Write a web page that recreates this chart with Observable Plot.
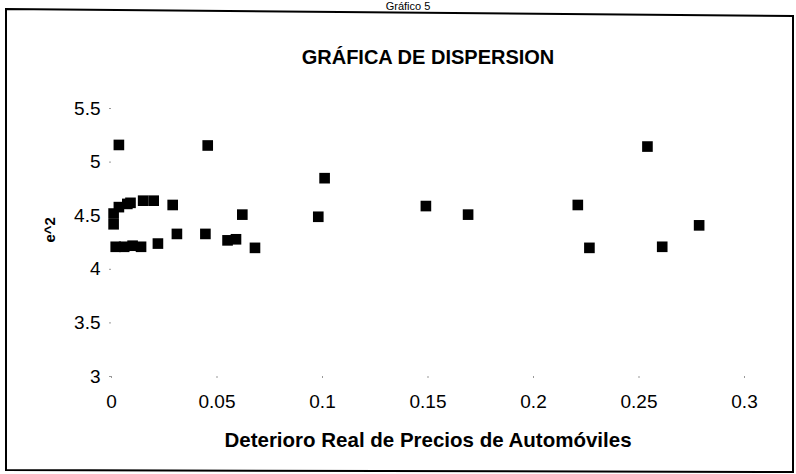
<!DOCTYPE html>
<html>
<head>
<meta charset="utf-8">
<script src="https://cdn.jsdelivr.net/npm/d3@7"></script>
<script src="https://cdn.jsdelivr.net/npm/@observablehq/plot@0.6"></script>
<style>
  html, body { margin: 0; padding: 0; background: #fff; }
  #chart svg { display: block; font-family: "Liberation Sans", Arial, sans-serif; }
</style>
</head>
<body>
<div id="chart"></div>
<script>
const chartTitle = "GRÁFICA DE DISPERSION";
const pageTitle = "Gráfico 5";
const xTitle = "Deterioro Real de Precios de Automóviles";
const yTitle = "e^2";
const xTicks = [0, 0.05, 0.1, 0.15, 0.2, 0.25, 0.3];
const yTicks = [3, 3.5, 4, 4.5, 5, 5.5];

const deterioro = [0.0035, 0.0456, 0.001, 0.001, 0.0035, 0.0075, 0.009, 0.015, 0.020, 0.029,
                   0.062, 0.031, 0.0445, 0.055, 0.059, 0.002, 0.006, 0.010, 0.014, 0.022,
                   0.068, 0.101, 0.098, 0.149, 0.169, 0.254, 0.221, 0.2265, 0.261, 0.2785];
const e2 = [5.16, 5.155, 4.52, 4.42, 4.58, 4.61, 4.62, 4.64, 4.64, 4.60,
            4.51, 4.33, 4.33, 4.27, 4.28, 4.21, 4.21, 4.22, 4.21, 4.24,
            4.20, 4.85, 4.49, 4.59, 4.51, 5.145, 4.60, 4.20, 4.21, 4.41];

const data = deterioro.map((x, i) => ({x, y: e2[i]}));

const plot = Plot.plot({
  width: 796,
  height: 474,
  marginLeft: 111,
  marginRight: 52,
  marginTop: 108,
  marginBottom: 98,
  style: {background: "#fff", color: "#000", fontFamily: "'Liberation Sans', Arial, sans-serif"},
  x: {domain: [0, 0.3], label: null},
  y: {domain: [3, 5.5], label: null},
  marks: [
    Plot.axisX({ticks: xTicks, tickFormat: d => String(d), tickSize: 2, tickPadding: 16, fontSize: 19, stroke: "#999", fill: "#000", label: null}),
    Plot.axisY({ticks: yTicks, tickFormat: d => String(d), tickSize: 2, tickPadding: 9, fontSize: 19, stroke: "#999", fill: "#000", label: null}),
    Plot.dot(data, {x: "x", y: "y", symbol: "square", r: 6, fill: "#000", stroke: "none"}),
    Plot.text([chartTitle], {frameAnchor: "top", dy: -51, lineAnchor: "middle", fontSize: 20, fontWeight: "bold", fill: "#000"}),
    Plot.text([xTitle], {frameAnchor: "bottom", dy: 64, lineAnchor: "middle", fontSize: 20.5, fontWeight: "bold", fill: "#000"}),
    Plot.text([yTitle], {frameAnchor: "left", dx: -61, rotate: -90, lineAnchor: "middle", fontSize: 15, fontWeight: "bold", fill: "#000"}),
    Plot.text([pageTitle], {frameAnchor: "top", dx: -20, dy: -102, lineAnchor: "middle", fontSize: 11, fill: "#000"})
  ]
});

d3.select(plot).insert("path", ":first-child")
  .attr("d", "M6,9 L793,16 L793,472 L6,470 Z")
  .attr("fill", "none")
  .attr("stroke", "#000")
  .attr("stroke-width", 2);

document.getElementById("chart").appendChild(plot);
</script>
</body>
</html>
